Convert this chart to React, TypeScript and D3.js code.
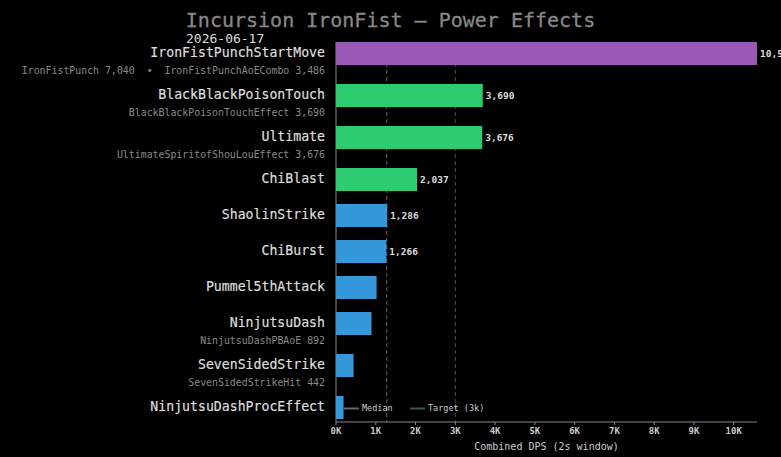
import React from "react";
import * as d3 from "d3";

const categories = [
  "IronFistPunchStartMove",
  "BlackBlackPoisonTouch",
  "Ultimate",
  "ChiBlast",
  "ShaolinStrike",
  "ChiBurst",
  "Pummel5thAttack",
  "NinjutsuDash",
  "SevenSidedStrike",
  "NinjutsuDashProcEffect",
];
const values = [10585, 3690, 3676, 2037, 1286, 1266, 1020, 892, 442, 190];
const subLabels = [
  "IronFistPunch 7,040  •  IronFistPunchAoECombo 3,486",
  "BlackBlackPoisonTouchEffect 3,690",
  "UltimateSpiritofShouLouEffect 3,676",
  "",
  "",
  "",
  "",
  "NinjutsuDashPBAoE 892",
  "SevenSidedStrikeHit 442",
  "",
];
const tiers = ["top", "good", "good", "good", "low", "low", "low", "low", "low", "low"];
const showValue = [true, true, true, true, true, true, false, false, false, false];
const tickValues = [0, 1000, 2000, 3000, 4000, 5000, 6000, 7000, 8000, 9000, 10000];
const target = 3000;

const W = 781;
const H = 457;
const FONT = "'DejaVu Sans Mono', monospace";
const tierColor: Record<string, string> = { top: "#9b59b6", good: "#2ecc71", low: "#3498db" };

export default function App() {
  const left = 336;
  const right = 757;
  const top = 42;
  const barH = 23;
  const x = d3.scaleLinear().domain([0, d3.max(values) as number]).range([left, right]);

  // row layout: rows with a sub-label are taller
  const rowY: number[] = [];
  let acc = top;
  categories.forEach((_, i) => {
    rowY.push(acc);
    acc += 36 + (subLabels[i] ? 6 : 0);
  });
  const axisY = rowY[rowY.length - 1] + barH + 3;
  const median = d3.median(values) as number;

  return (
    <svg width={W} height={H} style={{ position: "absolute", left: 0, top: 0, background: "#000" }} fontFamily={FONT}>
      <rect x={0} y={0} width={W} height={H} fill="#000" />
      <text x={W / 2} y={27} textAnchor="middle" fontSize={20} fill="#888" stroke="#888" strokeWidth={0.3}>
        Incursion IronFist — Power Effects
      </text>
      <text x={186} y={43} fontSize={13} fill="#ddd">2026-06-17</text>

      {/* reference lines */}
      <line x1={x(median)} x2={x(median)} y1={top} y2={axisY} stroke="#666" strokeWidth={1} strokeDasharray="4,3" />
      <line x1={x(target)} x2={x(target)} y1={top} y2={axisY} stroke="#3d5a45" strokeWidth={1} strokeDasharray="4,3" />

      {/* left axis */}
      <line x1={left} x2={left} y1={top} y2={axisY} stroke="#888" strokeWidth={1} />

      {categories.map((c, i) => {
        const y0 = rowY[i];
        const cy = y0 + barH / 2;
        return (
          <g key={c}>
            <rect x={x(0)} y={y0} width={x(values[i]) - x(0)} height={barH} fill={tierColor[tiers[i]]} />
            <text x={325} y={cy - 1} textAnchor="end" dominantBaseline="central" fontSize={13.2} fill="#ddd" stroke="#ddd" strokeWidth={0.2}>
              {c}
            </text>
            {subLabels[i] && (
              <text x={325} y={y0 + 28} textAnchor="end" dominantBaseline="central" fontSize={9.9} fill="#888" style={{ whiteSpace: "pre" }}>
                {subLabels[i]}
              </text>
            )}
            {showValue[i] && (
              <text x={x(values[i]) + 3} y={cy} dominantBaseline="central" fontSize={9.5} fontWeight="bold" fill="#ddd">
                {d3.format(",")(values[i])}
              </text>
            )}
          </g>
        );
      })}

      {/* legend */}
      <line x1={344} x2={359} y1={408.5} y2={408.5} stroke="#666" strokeWidth={2} />
      <text x={362} y={408} dominantBaseline="central" fontSize={8.5} fill="#ccc">Median</text>
      <line x1={410} x2={425} y1={408.5} y2={408.5} stroke="#3d5a45" strokeWidth={2} />
      <text x={428} y={408} dominantBaseline="central" fontSize={8.5} fill="#ccc">Target (3k)</text>

      {/* x axis */}
      <line x1={left} x2={right} y1={axisY} y2={axisY} stroke="#888" strokeWidth={1} />
      {tickValues.map((t) => (
        <g key={t}>
          <line x1={x(t)} x2={x(t)} y1={axisY} y2={axisY + 3} stroke="#888" />
          <text x={x(t)} y={axisY + 9} textAnchor="middle" dominantBaseline="central" fontSize={9} fontWeight="bold" fill="#ccc">
            {`${t / 1000}K`}
          </text>
        </g>
      ))}
      <text x={(left + right) / 2} y={446} textAnchor="middle" dominantBaseline="central" fontSize={10} fill="#ccc">
        Combined DPS (2s window)
      </text>
    </svg>
  );
}
